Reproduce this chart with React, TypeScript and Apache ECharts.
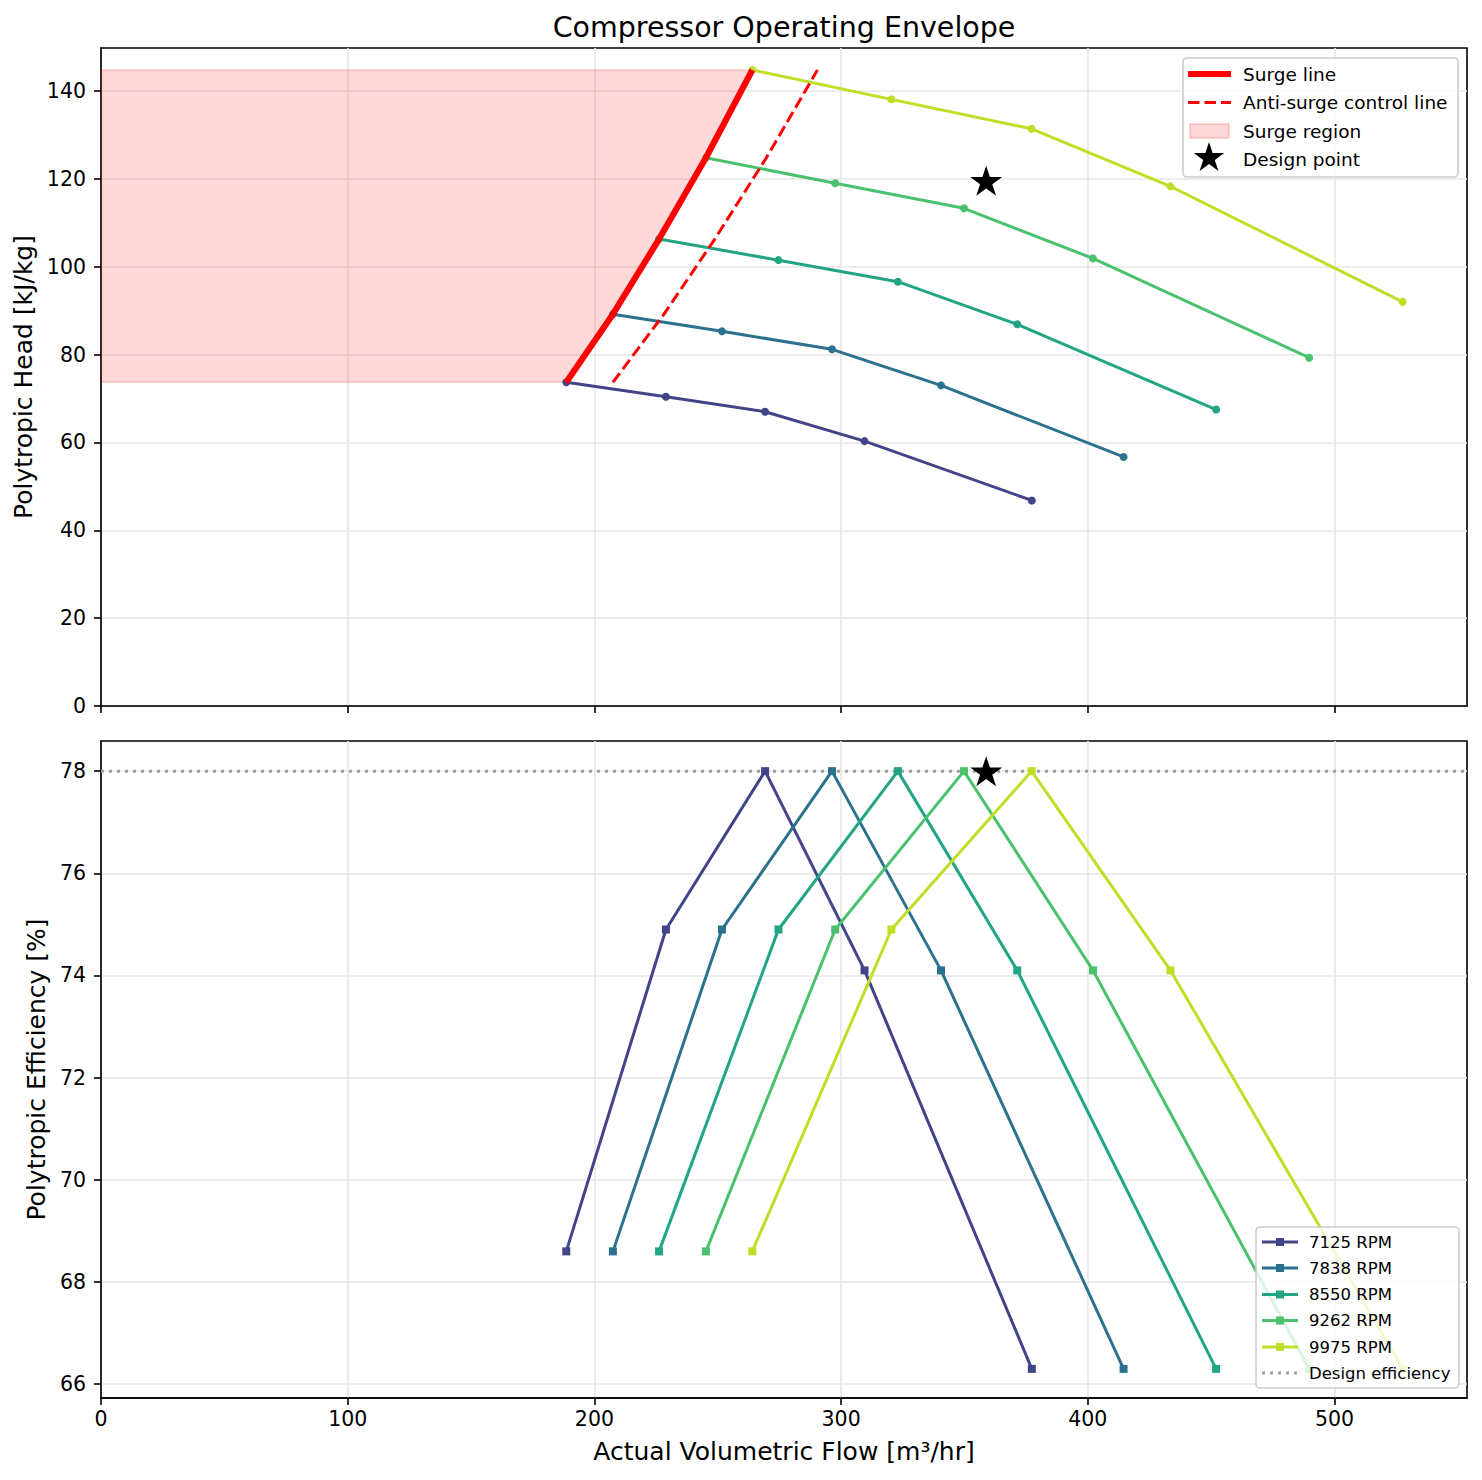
import React, { useEffect, useRef } from "react";
import * as echarts from "echarts";

const speeds = ["7125 RPM", "7838 RPM", "8550 RPM", "9262 RPM", "9975 RPM"];
const colors = ["#414487", "#2c728e", "#21a585", "#4ac16d", "#bddf26"];

const flow7125 = [188.6, 229.0, 269.2, 309.5, 377.3];
const flow7838 = [207.5, 251.7, 296.3, 340.5, 414.5];
const flow8550 = [226.2, 274.6, 323.0, 371.4, 452.0];
const flow9262 = [245.2, 297.6, 349.8, 402.1, 489.7];
const flow9975 = [264.0, 320.4, 377.2, 433.5, 527.6];

const head7125 = [73.7, 70.4, 67.0, 60.3, 46.8];
const head7838 = [89.2, 85.3, 81.2, 73.0, 56.7];
const head8550 = [106.3, 101.5, 96.6, 86.9, 67.5];
const head9262 = [124.8, 119.0, 113.3, 101.9, 79.3];
const head9975 = [144.8, 138.1, 131.4, 118.3, 92.0];

const eff7125 = [68.6, 74.9, 78.0, 74.1, 66.3];
const eff7838 = [68.6, 74.9, 78.0, 74.1, 66.3];
const eff8550 = [68.6, 74.9, 78.0, 74.1, 66.3];
const eff9262 = [68.6, 74.9, 78.0, 74.1, 66.3];
const eff9975 = [68.6, 74.9, 78.0, 74.1, 66.3];

const surgeFlow = [188.6, 207.5, 226.2, 245.2, 264.0];
const surgeHead = [73.7, 89.2, 106.3, 124.8, 144.8];
const controlFlow = [207.5, 228.2, 248.8, 269.7, 290.4];
const controlHead = [73.7, 89.2, 106.3, 124.8, 144.8];

const designFlow = 358.8;
const designHead = 119.6;
const designEff = 78.0;

const xRange = [0, 553.7];
const headRange = [0, 149.8];
const effRange = [65.73, 78.59];
const xTicks = [0, 100, 200, 300, 400, 500];
const headTicks = [0, 20, 40, 60, 80, 100, 120, 140];
const effTicks = [66, 68, 70, 72, 74, 76, 78];

const topLegendLabels = ["Surge line", "Anti-surge control line", "Surge region", "Design point"];
const effLegendLabel = "Design efficiency";

const flows = [flow7125, flow7838, flow8550, flow9262, flow9975];
const heads = [head7125, head7838, head8550, head9262, head9975];
const effs = [eff7125, eff7838, eff8550, eff9262, eff9975];

const STAR =
  "path://M50 0 L61.23 34.55 L97.55 34.55 L68.16 55.9 L79.39 90.45 L50 69.1 L20.61 90.45 L31.84 55.9 L2.45 34.55 L38.77 34.55 Z";

const FONT = "DejaVu Sans";

function zip(a: number[], b: number[]) {
  return a.map((v, i) => [v, b[i]]);
}

function starPoints(cx: number, cy: number, R: number) {
  const pts: number[][] = [];
  const r = R * 0.382;
  for (let k = 0; k < 10; k++) {
    const ang = ((-90 + k * 36) * Math.PI) / 180;
    const rad = k % 2 === 0 ? R : r;
    pts.push([cx + rad * Math.cos(ang), cy + rad * Math.sin(ang)]);
  }
  return pts;
}

function fmtTicks(ticks: number[]) {
  return (v: number) => {
    const hit = ticks.find((t) => Math.abs(t - v) < 1e-6);
    return hit === undefined ? "" : String(hit);
  };
}

export default function App() {
  const ref = useRef<HTMLDivElement>(null);
  useEffect(() => {
    document.body.style.margin = "0";
    document.body.style.overflow = "hidden";
    const chart = echarts.init(ref.current!, null, { renderer: "svg" });

    const axisCommon = {
      type: "value",
      axisLine: { show: true, onZero: false, lineStyle: { color: "#000", width: 1.6 } },
      splitLine: { show: true, lineStyle: { color: "#e7e7e7", width: 1.6 } },
      nameTextStyle: { color: "#000", fontSize: 25, fontFamily: FONT },
    };
    const tick = (vals: number[]) => ({
      show: true,
      length: 7,
      inside: false,
      customValues: vals,
      lineStyle: { color: "#000", width: 1.6 },
    });
    const label = (vals: number[], margin: number) => ({
      show: true,
      color: "#000",
      fontSize: 20.5,
      fontFamily: FONT,
      margin,
      customValues: vals,
      formatter: fmtTicks(vals),
    });

    const series: any[] = [];
    speeds.forEach((s, i) => {
      series.push({
        name: s + " head",
        type: "line",
        xAxisIndex: 0,
        yAxisIndex: 0,
        data: zip(flows[i], heads[i]),
        symbol: "circle",
        symbolSize: 8,
        showSymbol: true,
        lineStyle: { color: colors[i], width: 3 },
        itemStyle: { color: colors[i] },
        z: 3,
      });
    });
    series.push({
      name: topLegendLabels[2],
      type: "custom",
      xAxisIndex: 0,
      yAxisIndex: 0,
      data: [[0, surgeHead[0]]],
      renderItem: (params: any, api: any) => {
        const pts: number[][] = [];
        pts.push(api.coord([xRange[0], surgeHead[0]]));
        for (let i = 0; i < surgeFlow.length; i++) pts.push(api.coord([surgeFlow[i], surgeHead[i]]));
        pts.push(api.coord([xRange[0], surgeHead[surgeHead.length - 1]]));
        return {
          type: "polygon",
          shape: { points: pts },
          style: { fill: "rgba(255,0,0,0.15)", stroke: "rgba(255,0,0,0.18)", lineWidth: 1.6 },
        };
      },
      z: 2,
    });
    series.push({
      name: topLegendLabels[0],
      type: "line",
      xAxisIndex: 0,
      yAxisIndex: 0,
      data: zip(surgeFlow, surgeHead),
      symbol: "none",
      lineStyle: { color: "#ff0000", width: 6.2 },
      z: 4,
    });
    series.push({
      name: topLegendLabels[1],
      type: "line",
      xAxisIndex: 0,
      yAxisIndex: 0,
      data: zip(controlFlow, controlHead),
      symbol: "none",
      lineStyle: { color: "#ff0000", width: 3, type: [11.5, 5] },
      z: 4,
    });
    series.push({
      name: topLegendLabels[3],
      type: "scatter",
      xAxisIndex: 0,
      yAxisIndex: 0,
      data: [[designFlow, designHead]],
      symbol: STAR,
      symbolSize: [32, 30],
      itemStyle: { color: "#000", opacity: 1 },
      z: 6,
    });
    speeds.forEach((s, i) => {
      series.push({
        name: s,
        type: "line",
        xAxisIndex: 1,
        yAxisIndex: 1,
        data: zip(flows[i], effs[i]),
        symbol: "rect",
        symbolSize: 8,
        showSymbol: true,
        lineStyle: { color: colors[i], width: 3 },
        itemStyle: { color: colors[i] },
        z: 3,
      });
    });
    series.push({
      name: effLegendLabel,
      type: "line",
      xAxisIndex: 1,
      yAxisIndex: 1,
      data: [
        [xRange[0], designEff],
        [xRange[1], designEff],
      ],
      symbol: "none",
      lineStyle: { color: "#a0a0a0", width: 3, type: [3, 5] },
      z: 2,
    });
    series.push({
      name: "Design point (efficiency)",
      type: "scatter",
      xAxisIndex: 1,
      yAxisIndex: 1,
      data: [[designFlow, designEff]],
      symbol: STAR,
      symbolSize: [32, 30],
      itemStyle: { color: "#000", opacity: 1 },
      z: 6,
    });

    // Legends drawn as graphics
    const Z = 100;
    const tFont = `18.5px "${FONT}"`;
    const bFont = `16.5px "${FONT}"`;
    const topY = [74, 102.5, 131, 159];
    const topLegend: any[] = [
      {
        type: "rect",
        z: Z,
        shape: { x: 1183, y: 58, width: 275, height: 119, r: 4 },
        style: { fill: "rgba(255,255,255,0.8)", stroke: "#cccccc", lineWidth: 1.6 },
      },
      { type: "line", z: Z + 1, shape: { x1: 1188, y1: topY[0], x2: 1231, y2: topY[0] }, style: { stroke: "#ff0000", lineWidth: 6.2 } },
      {
        type: "line",
        z: Z + 1,
        shape: { x1: 1188, y1: topY[1], x2: 1231, y2: topY[1] },
        style: { stroke: "#ff0000", lineWidth: 3, lineDash: [11.5, 5] },
      },
      {
        type: "rect",
        z: Z + 1,
        shape: { x: 1190, y: topY[2] - 7, width: 39, height: 14 },
        style: { fill: "rgba(255,0,0,0.15)", stroke: "rgba(255,0,0,0.2)", lineWidth: 1.6 },
      },
      { type: "polygon", z: Z + 1, shape: { points: starPoints(1209, topY[3] - 1, 16) }, style: { fill: "#000" } },
    ];
    topLegendLabels.forEach((t, i) => {
      topLegend.push({
        type: "text",
        z: Z + 1,
        x: 1243,
        y: topY[i],
        style: { text: t, fill: "#000", font: tFont, verticalAlign: "middle", textVerticalAlign: "middle" },
      });
    });
    const botY = [1242, 1268, 1294.5, 1320.5, 1347, 1373];
    const botLegend: any[] = [
      {
        type: "rect",
        z: Z,
        shape: { x: 1256, y: 1227, width: 203, height: 161, r: 4 },
        style: { fill: "rgba(255,255,255,0.8)", stroke: "#cccccc", lineWidth: 1.6 },
      },
    ];
    speeds.forEach((s, i) => {
      botLegend.push({
        type: "line",
        z: Z + 1,
        shape: { x1: 1262, y1: botY[i], x2: 1298, y2: botY[i] },
        style: { stroke: colors[i], lineWidth: 3 },
      });
      botLegend.push({
        type: "rect",
        z: Z + 2,
        shape: { x: 1276, y: botY[i] - 4, width: 8, height: 8 },
        style: { fill: colors[i] },
      });
      botLegend.push({
        type: "text",
        z: Z + 1,
        x: 1309,
        y: botY[i],
        style: { text: s, fill: "#000", font: bFont, verticalAlign: "middle", textVerticalAlign: "middle" },
      });
    });
    botLegend.push({
      type: "line",
      z: Z + 1,
      shape: { x1: 1262, y1: botY[5], x2: 1298, y2: botY[5] },
      style: { stroke: "#a0a0a0", lineWidth: 3, lineDash: [3, 5] },
    });
    botLegend.push({
      type: "text",
      z: Z + 1,
      x: 1309,
      y: botY[5],
      style: { text: effLegendLabel, fill: "#000", font: bFont, verticalAlign: "middle", textVerticalAlign: "middle" },
    });

    const option: any = {
      animation: false,
      backgroundColor: "#fff",
      textStyle: { fontFamily: FONT },
      title: {
        text: "Compressor Operating Envelope",
        left: 784,
        top: 13,
        padding: 0,
        textAlign: "center",
        textStyle: { color: "#000", fontSize: 28.5, fontWeight: "normal", fontFamily: FONT },
      },
      grid: [
        { left: 101, right: 15, top: 48, height: 658, show: true, borderColor: "#000", borderWidth: 1.6, backgroundColor: "transparent" },
        { left: 101, right: 15, top: 741, height: 657, show: true, borderColor: "#000", borderWidth: 1.6, backgroundColor: "transparent" },
      ],
      xAxis: [
        {
          ...axisCommon,
          gridIndex: 0,
          min: xRange[0],
          max: xRange[1],
          interval: 100,
          axisTick: tick(xTicks),
          axisLabel: { show: false },
        },
        {
          ...axisCommon,
          gridIndex: 1,
          min: xRange[0],
          max: xRange[1],
          interval: 100,
          name: "Actual Volumetric Flow [m³/hr]",
          nameLocation: "middle",
          nameGap: 41,
          axisTick: tick(xTicks),
          axisLabel: label(xTicks, 10),
        },
      ],
      yAxis: [
        {
          ...axisCommon,
          gridIndex: 0,
          min: headRange[0],
          max: headRange[1],
          interval: 20,
          name: "Polytropic Head [kJ/kg]",
          nameLocation: "middle",
          nameGap: 62,
          axisTick: tick(headTicks),
          axisLabel: label(headTicks, 15),
        },
        {
          ...axisCommon,
          gridIndex: 1,
          min: effRange[0],
          max: effRange[1],
          splitNumber: 6,
          minInterval: 2,
          maxInterval: 2,
          name: "Polytropic Efficiency [%]",
          nameLocation: "middle",
          nameGap: 51,
          axisTick: tick(effTicks),
          axisLabel: label(effTicks, 15),
        },
      ],
      graphic: [
        { type: "group", z: Z, children: topLegend },
        { type: "group", z: Z, children: botLegend },
      ],
      series,
    };
    chart.setOption(option);
    return () => chart.dispose();
  }, []);
  return <div ref={ref} style={{ width: 1482, height: 1480 }} />;
}
